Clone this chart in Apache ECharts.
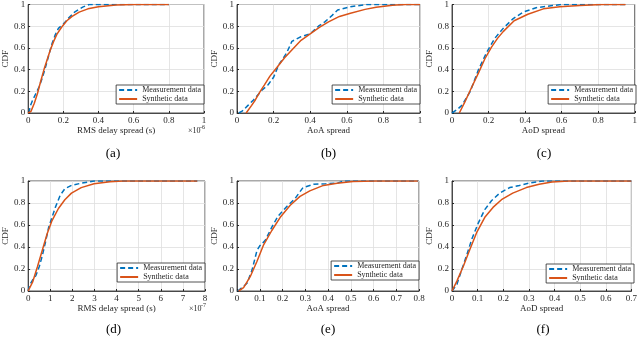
<!DOCTYPE html>
<html>
<head>
<meta charset="utf-8">
<script src="https://cdn.jsdelivr.net/npm/echarts@6/dist/echarts.min.js"></script>
<style>
  html, body { margin: 0; padding: 0; background: #fff; }
  #chart { width: 640px; height: 338px; }
</style>
</head>
<body>
<div id="chart"></div>
<script>
// CDF curves, x in axis units (a: x1e-6 s, d: x1e-7 s)
var measA = [[0.005,0],[0.011,0.06],[0.026,0.12],[0.044,0.18],[0.062,0.24],[0.08,0.32],[0.1,0.43],[0.117,0.53],[0.136,0.64],[0.154,0.72],[0.172,0.78],[0.2,0.82],[0.227,0.87],[0.264,0.93],[0.31,0.976],[0.346,1],[0.8,1]];
var synA = [[0,0],[0.016,0.015],[0.035,0.09],[0.053,0.18],[0.071,0.29],[0.09,0.4],[0.108,0.49],[0.126,0.58],[0.145,0.66],[0.165,0.73],[0.19,0.79],[0.22,0.85],[0.25,0.89],[0.29,0.93],[0.34,0.96],[0.4,0.98],[0.5,0.995],[0.6,1],[0.8,1]];

var measB = [[0.01,0],[0.03,0.02],[0.06,0.07],[0.09,0.12],[0.136,0.21],[0.17,0.26],[0.2,0.33],[0.227,0.44],[0.27,0.55],[0.3,0.66],[0.345,0.7],[0.4,0.73],[0.445,0.8],[0.48,0.84],[0.52,0.9],[0.55,0.95],[0.62,0.98],[0.71,1],[1,1]];
var synB = [[0.05,0],[0.08,0.07],[0.1,0.12],[0.127,0.2],[0.15,0.26],[0.18,0.34],[0.218,0.42],[0.26,0.51],[0.31,0.6],[0.35,0.67],[0.4,0.73],[0.45,0.79],[0.5,0.84],[0.56,0.89],[0.62,0.92],[0.7,0.955],[0.76,0.975],[0.85,0.993],[0.92,1],[1,1]];

var measC = [[0,0],[0.027,0.03],[0.054,0.07],[0.1,0.2],[0.145,0.4],[0.19,0.56],[0.235,0.69],[0.28,0.78],[0.335,0.87],[0.39,0.93],[0.46,0.97],[0.55,0.99],[0.6,1],[0.95,1]];
var synC = [[0.04,0],[0.07,0.1],[0.1,0.21],[0.145,0.37],[0.18,0.5],[0.217,0.61],[0.25,0.69],[0.28,0.75],[0.34,0.85],[0.415,0.91],[0.5,0.96],[0.59,0.98],[0.7,0.99],[0.82,1],[0.95,1]];

var measD = [[0,0],[0.06,0.05],[0.2,0.1],[0.35,0.14],[0.5,0.22],[0.64,0.32],[0.79,0.45],[0.93,0.58],[1.08,0.67],[1.23,0.76],[1.45,0.87],[1.66,0.93],[1.96,0.96],[2.4,0.98],[2.98,1],[7.65,1]];
var synD = [[0,0],[0.2,0.08],[0.42,0.22],[0.64,0.37],[0.86,0.52],[1.08,0.64],[1.37,0.75],[1.66,0.83],[1.96,0.89],[2.4,0.94],[2.98,0.975],[3.7,0.993],[4.3,1],[7.65,1]];

var measE = [[0.003,0],[0.022,0.03],[0.044,0.07],[0.066,0.19],[0.088,0.37],[0.1,0.41],[0.124,0.46],[0.153,0.58],[0.18,0.68],[0.22,0.77],[0.255,0.84],[0.29,0.94],[0.336,0.97],[0.39,0.975],[0.44,0.98],[0.47,1],[0.795,1]];
var synE = [[0.007,0],[0.029,0.03],[0.058,0.13],[0.088,0.27],[0.117,0.42],[0.153,0.55],[0.19,0.67],[0.234,0.78],[0.277,0.86],[0.32,0.91],[0.38,0.96],[0.44,0.98],[0.51,0.995],[0.61,1],[0.795,1]];

var measF = [[0,0],[0.019,0.06],[0.039,0.2],[0.058,0.33],[0.077,0.47],[0.103,0.62],[0.128,0.74],[0.154,0.82],[0.186,0.89],[0.225,0.94],[0.263,0.96],[0.3,0.98],[0.353,1],[0.7,1]];
var synF = [[0,0],[0.019,0.09],[0.045,0.23],[0.07,0.38],[0.096,0.53],[0.128,0.67],[0.16,0.76],[0.193,0.83],[0.237,0.89],[0.29,0.94],[0.34,0.97],[0.39,0.99],[0.456,1],[0.7,1]];

var xNames = ['RMS delay spread (s)', 'AoA spread', 'AoD spread', 'RMS delay spread (s)', 'AoA spread', 'AoD spread'];
var xMax = [1, 1, 1, 8, 0.8, 0.7];
var xStep = [0.2, 0.2, 0.2, 1, 0.1, 0.1];
var panelLabels = ['(a)', '(b)', '(c)', '(d)', '(e)', '(f)'];

var measAll = [measA, measB, measC, measD, measE, measF];
var synAll = [synA, synB, synC, synD, synE, synF];

// layout of the six axes boxes
var boxes = [
  { l: 22, r: 204, t: 4, b: 113 },
  { l: 237, r: 420, t: 4, b: 113 },
  { l: 452, r: 636, t: 4, b: 113 },
  { l: 22, r: 205, t: 181, b: 291 },
  { l: 237, r: 419, t: 181, b: 291 },
  { l: 452, r: 634, t: 181, b: 291 }
];
var legendTops = [85, 85, 85, 263, 261, 264];

var FONT = 'Liberation Serif';
var BLUE = '#0072BD';
var ORANGE = '#D95319';
var DARK = '#262626';

var chart = echarts.init(document.getElementById('chart'));

var grid = [], xAxis = [], yAxis = [], series = [], legend = [], graphic = [];

boxes.forEach(function (b, i) {
  grid.push({
    left: b.l, top: b.t, width: b.r - b.l, height: b.b - b.t,
    show: true, borderColor: DARK, borderWidth: 0.8, containLabel: false
  });
  xAxis.push({
    type: 'value', gridIndex: i, min: 0, max: xMax[i], interval: xStep[i],
    name: xNames[i], nameLocation: 'middle', nameGap: 12,
    nameTextStyle: { fontFamily: FONT, fontSize: 9, color: DARK },
    axisLine: { lineStyle: { color: DARK, width: 0.8 } },
    axisTick: { inside: true, length: 2, lineStyle: { color: DARK } },
    axisLabel: { fontFamily: FONT, fontSize: 9, color: DARK, margin: 3 },
    splitLine: { show: true, lineStyle: { color: '#dedede', width: 0.8 } }
  });
  yAxis.push({
    type: 'value', gridIndex: i, min: 0, max: 1, interval: 0.2,
    name: 'CDF', nameLocation: 'middle', nameGap: 13, nameRotate: 90,
    nameTextStyle: { fontFamily: FONT, fontSize: 9, color: DARK },
    axisLine: { show: true, lineStyle: { color: DARK, width: 0.8 } },
    axisTick: { show: true, inside: true, length: 2, lineStyle: { color: DARK } },
    axisLabel: { fontFamily: FONT, fontSize: 9, color: DARK, margin: 3 },
    splitLine: { show: true, lineStyle: { color: '#dedede', width: 0.8 } }
  });
  series.push({
    name: 'Measurement data', type: 'line', xAxisIndex: i, yAxisIndex: i,
    data: measAll[i], symbol: 'none', z: 2,
    lineStyle: { color: BLUE, width: 1.5, type: [5, 3] }, itemStyle: { color: BLUE }
  });
  series.push({
    name: 'Synthetic data', type: 'line', xAxisIndex: i, yAxisIndex: i,
    data: synAll[i], symbol: 'none', z: 3,
    lineStyle: { color: ORANGE, width: 1.5 }, itemStyle: { color: ORANGE }
  });
  legend.push({
    data: ['Measurement data', 'Synthetic data'],
    orient: 'vertical', right: 640 - b.r, top: legendTops[i],
    itemWidth: 18, itemHeight: 7, itemGap: 1,
    padding: [1, 3, 1, 2],
    borderColor: DARK, borderWidth: 0.8, backgroundColor: '#fff',
    itemStyle: { opacity: 0 },
    textStyle: { fontFamily: FONT, fontSize: 8, color: DARK, lineHeight: 8 }
  });
  graphic.push({
    type: 'text', x: (b.l + b.r) / 2, y: i < 3 ? 154 : 330,
    style: { text: panelLabels[i], font: '13px ' + FONT, fill: '#000',
      align: 'center', verticalAlign: 'middle', textAlign: 'center', textVerticalAlign: 'middle' }
  });
});

// exponent notes under the delay-spread axes
[[0, '-6'], [3, '-7']].forEach(function (e) {
  var b = boxes[e[0]];
  graphic.push({
    type: 'text', x: b.r - 16, y: b.b + 18,
    style: { text: '\u00d710', font: '8px ' + FONT, fill: DARK, verticalAlign: 'middle', textVerticalAlign: 'middle' }
  });
  graphic.push({
    type: 'text', x: b.r - 4, y: b.b + 14,
    style: { text: e[1], font: '6px ' + FONT, fill: DARK, verticalAlign: 'middle', textVerticalAlign: 'middle' }
  });
});

chart.setOption({
  animation: false,
  backgroundColor: '#fff',
  grid: grid,
  xAxis: xAxis,
  yAxis: yAxis,
  legend: legend,
  series: series,
  graphic: graphic
});
</script>
</body>
</html>
